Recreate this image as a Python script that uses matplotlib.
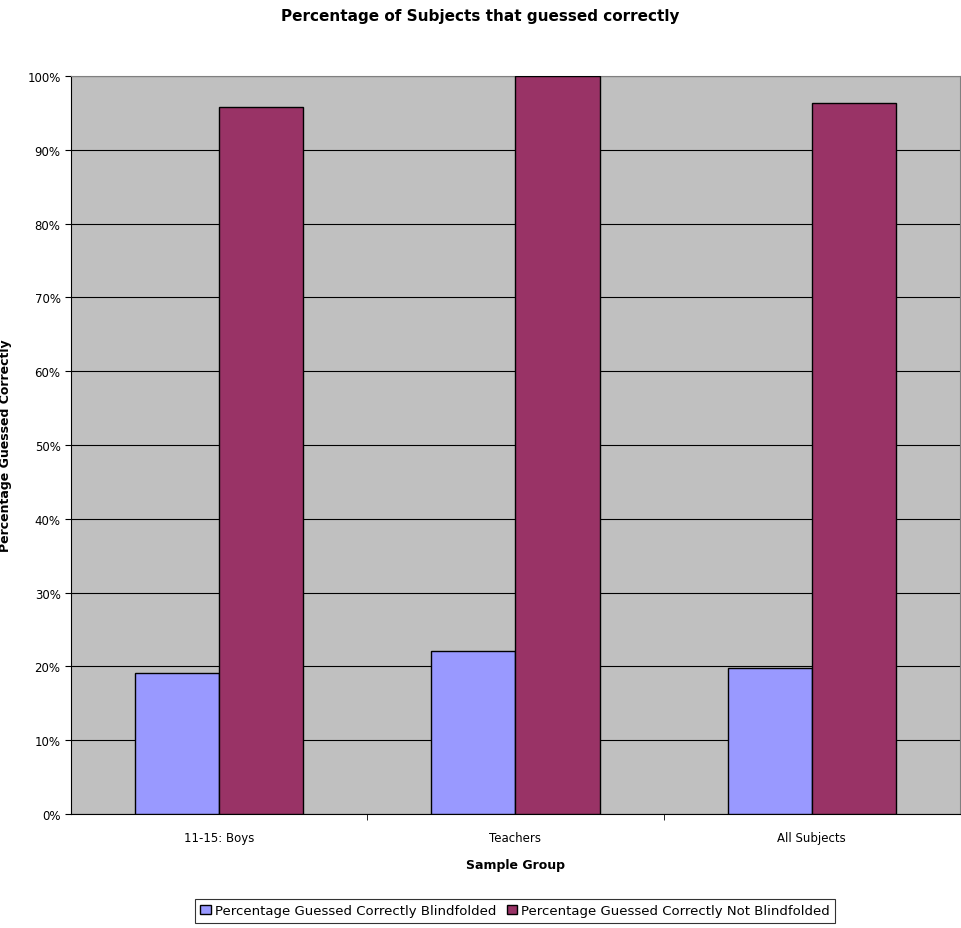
import matplotlib
matplotlib.use("Agg")
import matplotlib.pyplot as plt
import numpy as np
from matplotlib.ticker import PercentFormatter

categories = ["11-15: Boys", "Teachers", "All Subjects"]
blindfolded = [19.1, 22.1, 19.8]
not_blindfolded = [95.8, 100.0, 96.3]
series_names = ["Percentage Guessed Correctly Blindfolded", "Percentage Guessed Correctly Not Blindfolded"]

fig = plt.figure(figsize=(9.61, 9.29), dpi=100)
ax = fig.add_axes([0.0739, 0.1227, 0.925, 0.7943])
ax.set_facecolor("#c0c0c0")
x = np.arange(len(categories))
w = 0.2838
ax.bar(x - w/2, blindfolded, w, color="#9999ff", edgecolor="black", linewidth=1, label=series_names[0], zorder=3)
ax.bar(x + w/2, not_blindfolded, w, color="#993366", edgecolor="black", linewidth=1, label=series_names[1], zorder=3)
ax.set_xlim(-0.5, 2.5)
ax.set_ylim(0, 100)
ax.set_yticks(np.arange(0, 101, 10))
ax.yaxis.set_major_formatter(PercentFormatter(decimals=0))
ax.yaxis.grid(True, color="black", linewidth=0.8, zorder=0)
ax.set_xticks(x)
ax.set_xticklabels(categories, fontsize=8.5)
ax.set_xticks([0.5, 1.5], minor=True)
ax.tick_params(axis="x", which="both", length=4, direction="out")
ax.tick_params(axis="x", which="major", length=0, pad=12)
ax.tick_params(axis="y", labelsize=8.5, length=4)
for s in ax.spines.values():
    s.set_color("#808080")
ax.spines["left"].set_color("black")
ax.spines["bottom"].set_color("black")
ax.set_xlabel("Sample Group", fontsize=9, fontweight="bold", labelpad=10)
ax.set_ylabel("Percentage Guessed Correctly", fontsize=9, fontweight="bold")
ax.yaxis.set_label_coords(-0.066, 0.5)
fig.text(0.5, 0.99, "Percentage of Subjects that guessed correctly", ha="center", va="top", fontsize=11, fontweight="bold")
leg = fig.legend(loc="center", bbox_to_anchor=(0.536, 0.0183), ncol=2, fontsize=9.5, frameon=True,
                 fancybox=False, edgecolor="black", handlelength=0.8, handletextpad=0.3, columnspacing=0.8,
                 borderpad=0.4)
leg.get_frame().set_linewidth(0.8)
fig.savefig("out.png", dpi=100, facecolor="white")
